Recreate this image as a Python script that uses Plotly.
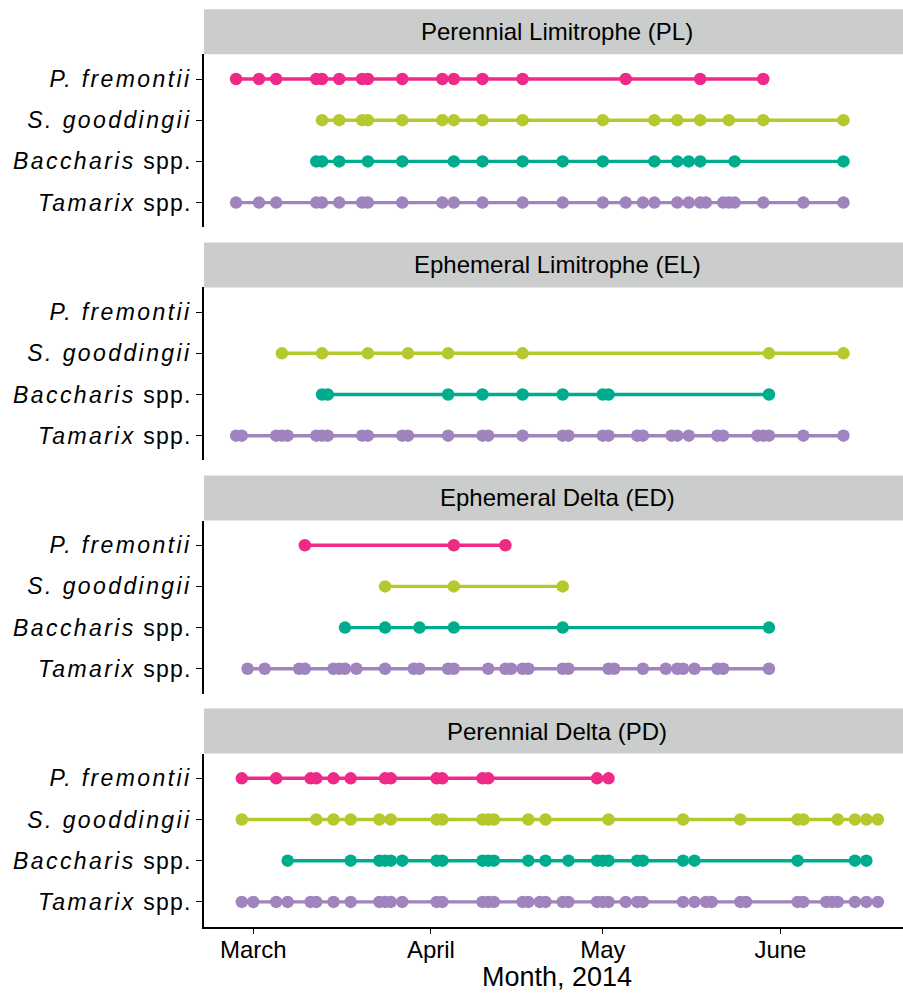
import plotly.graph_objects as go

# ---- data: sampling dates (2014) of each species at each site ----
species = ["P. fremontii", "S. gooddingii", "Baccharis spp.", "Tamarix spp."]
species_labels = ["<i>P. fremontii</i>", "<i>S. gooddingii</i>",
                  "<i>Baccharis</i> spp.", "<i>Tamarix</i> spp."]
species_colors = ["#EE2A87", "#B5C92E", "#00AC8E", "#A084BE"]
sites = ["Perennial Limitrophe (PL)", "Ephemeral Limitrophe (EL)",
         "Ephemeral Delta (ED)", "Perennial Delta (PD)"]
month_ticks = ["2014-03-01", "2014-04-01", "2014-05-01", "2014-06-01"]
month_labels = ["March", "April", "May", "June"]

PL_fremontii = ["02-26", "03-02", "03-05", "03-12", "03-13", "03-16", "03-20", "03-21",
                "03-27", "04-03", "04-05", "04-10", "04-17", "05-05", "05-18", "05-29"]
PL_gooddingii = ["03-13", "03-16", "03-20", "03-21", "03-27", "04-03", "04-05", "04-10",
                 "04-17", "05-01", "05-10", "05-14", "05-18", "05-23", "05-29", "06-12"]
PL_baccharis = ["03-12", "03-13", "03-16", "03-21", "03-27", "04-05", "04-10", "04-17",
                "04-24", "05-01", "05-10", "05-14", "05-16", "05-18", "05-24", "06-12"]
PL_tamarix = ["02-26", "03-02", "03-05", "03-12", "03-13", "03-16", "03-20", "03-21",
              "03-27", "04-03", "04-05", "04-10", "04-17", "04-24", "05-01", "05-05",
              "05-08", "05-10", "05-14", "05-16", "05-18", "05-19", "05-22", "05-23",
              "05-24", "05-29", "06-05", "06-12"]

EL_fremontii = []
EL_gooddingii = ["03-06", "03-13", "03-21", "03-28", "04-04", "04-17", "05-30", "06-12"]
EL_baccharis = ["03-13", "03-14", "04-04", "04-10", "04-17", "04-24", "05-01", "05-02", "05-30"]
EL_tamarix = ["02-26", "02-27", "03-05", "03-06", "03-07", "03-12", "03-13", "03-14",
              "03-20", "03-21", "03-27", "03-28", "04-04", "04-10", "04-11", "04-17",
              "04-24", "04-25", "05-01", "05-02", "05-07", "05-08", "05-13", "05-14",
              "05-16", "05-21", "05-22", "05-28", "05-29", "05-30", "06-05", "06-12"]

ED_fremontii = ["03-10", "04-05", "04-14"]
ED_gooddingii = ["03-24", "04-05", "04-24"]
ED_baccharis = ["03-17", "03-24", "03-30", "04-05", "04-24", "05-30"]
ED_tamarix = ["02-28", "03-03", "03-09", "03-10", "03-15", "03-16", "03-17", "03-19",
              "03-24", "03-29", "03-30", "04-04", "04-05", "04-11", "04-14", "04-15",
              "04-17", "04-18", "04-24", "04-25", "05-02", "05-03", "05-08", "05-12",
              "05-14", "05-15", "05-17", "05-21", "05-22", "05-30"]

PD_fremontii = ["02-27", "03-05", "03-11", "03-12", "03-15", "03-18", "03-24", "03-25",
                "04-02", "04-03", "04-10", "04-11", "04-30", "05-02"]
PD_gooddingii = ["02-27", "03-12", "03-15", "03-18", "03-23", "03-25", "04-02", "04-03",
                 "04-10", "04-11", "04-12", "04-18", "04-21", "05-02", "05-15", "05-25",
                 "06-04", "06-05", "06-11", "06-14", "06-16", "06-18"]
PD_baccharis = ["03-07", "03-18", "03-23", "03-24", "03-25", "03-27", "04-02", "04-03",
                "04-10", "04-11", "04-12", "04-18", "04-21", "04-25", "04-30", "05-01",
                "05-02", "05-07", "05-08", "05-15", "05-17", "06-04", "06-14", "06-16"]
PD_tamarix = ["02-27", "03-01", "03-05", "03-07", "03-11", "03-12", "03-15", "03-18",
              "03-23", "03-24", "03-25", "03-27", "04-02", "04-03", "04-10", "04-11",
              "04-12", "04-17", "04-18", "04-20", "04-21", "04-24", "04-25", "04-30",
              "05-01", "05-02", "05-05", "05-07", "05-08", "05-15", "05-17", "05-19",
              "05-20", "05-25", "05-26", "06-04", "06-05", "06-09", "06-10", "06-11",
              "06-14", "06-16", "06-18"]

site_data = [
    [PL_fremontii, PL_gooddingii, PL_baccharis, PL_tamarix],
    [EL_fremontii, EL_gooddingii, EL_baccharis, EL_tamarix],
    [ED_fremontii, ED_gooddingii, ED_baccharis, ED_tamarix],
    [PD_fremontii, PD_gooddingii, PD_baccharis, PD_tamarix],
]

# ---- layout geometry (pixels) ----
W, H = 903, 994
LEFT = 204
PANEL_TOP0 = 54.3
PANEL_STEP = 233.1
PANEL_H = 173.0
STRIP_H = 45.0
FONT = "Liberation Sans, Arial, Helvetica, sans-serif"
X_RANGE = ["2014-02-20 09:36", "2014-06-22 09:22"]


def py(px):
    return 1 - px / H


def pxx(px):
    return (px - LEFT) / (W - LEFT)


fig = go.Figure()
layout = dict(
    width=W, height=H,
    margin=dict(l=LEFT, r=0, t=0, b=0),
    paper_bgcolor="white", plot_bgcolor="white",
    showlegend=False,
    font=dict(family=FONT, color="black"),
    shapes=[], annotations=[],
)

for i, (site, series) in enumerate(zip(sites, site_data)):
    n = i + 1
    xa = "x" if n == 1 else f"x{n}"
    ya = "y" if n == 1 else f"y{n}"
    top = PANEL_TOP0 + PANEL_STEP * i
    bottom = top + PANEL_H

    for sp, dates, col in zip(species, series, species_colors):
        fig.add_trace(go.Scatter(
            x=["2014-" + d for d in dates], y=[sp] * len(dates),
            mode="lines+markers", xaxis=xa, yaxis=ya,
            line=dict(color=col, width=3.4),
            marker=dict(color=col, size=12.5),
            hoverinfo="x+y",
        ))

    last = (i == len(sites) - 1)
    layout["xaxis" if n == 1 else f"xaxis{n}"] = dict(
        domain=[0, 1], anchor=ya, type="date", range=X_RANGE,
        showgrid=False, zeroline=False,
        showline=last, linecolor="black", linewidth=1.7,
        ticks="outside" if last else "", ticklen=6, tickwidth=1.4, tickcolor="black",
        showticklabels=last, tickmode="array",
        tickvals=month_ticks, ticktext=month_labels, ticklabelstandoff=-5,
        tickfont=dict(size=24, family=FONT, color="black"),
    )
    layout["yaxis" if n == 1 else f"yaxis{n}"] = dict(
        domain=[py(bottom), py(top)], anchor=xa, type="category",
        categoryorder="array", categoryarray=species[::-1],
        range=[-0.6, 3.6],
        showgrid=False, zeroline=False,
        showline=True, linecolor="black", linewidth=1.7,
        ticks="outside", ticklen=6, tickwidth=1.4, tickcolor="black",
        tickmode="array", tickvals=species, ticktext=species_labels,
        tickfont=dict(size=23, family=FONT, color="black"),
    )

    # facet strip
    layout["shapes"].append(dict(
        type="rect", xref="paper", yref="paper",
        x0=0, x1=1, y0=py(top), y1=py(top - STRIP_H),
        fillcolor="#CBCCCC", line=dict(width=0), layer="below",
    ))
    layout["annotations"].append(dict(
        text=site, xref="paper", yref="paper",
        x=pxx(557), y=py(top - STRIP_H / 2),
        xanchor="center", yanchor="middle", showarrow=False,
        font=dict(size=24, family=FONT, color="black"),
    ))

layout["annotations"].append(dict(
    text="Month, 2014", xref="paper", yref="paper",
    x=pxx(557), y=py(977.2), xanchor="center", yanchor="middle",
    showarrow=False, font=dict(size=27, family=FONT, color="black"),
))

fig.update_layout(**layout)

# species names on every y axis get a little extra tracking (more for italics)
ytick_sel = ", ".join(f".{a}tick text" for a in ["y", "y2", "y3", "y4"])
ytick_ital = ", ".join(f".{a}tick tspan[style*=\"italic\"]" for a in ["y", "y2", "y3", "y4"])
css = f"{ytick_sel}{{letter-spacing:1.2px;}} {ytick_ital}{{letter-spacing:2.4px;}}"
post = (
    "var s=document.createElement('style');"
    f"s.textContent={css!r};"
    "document.head.appendChild(s);"
)
fig.write_html("out.html", post_script=post)
